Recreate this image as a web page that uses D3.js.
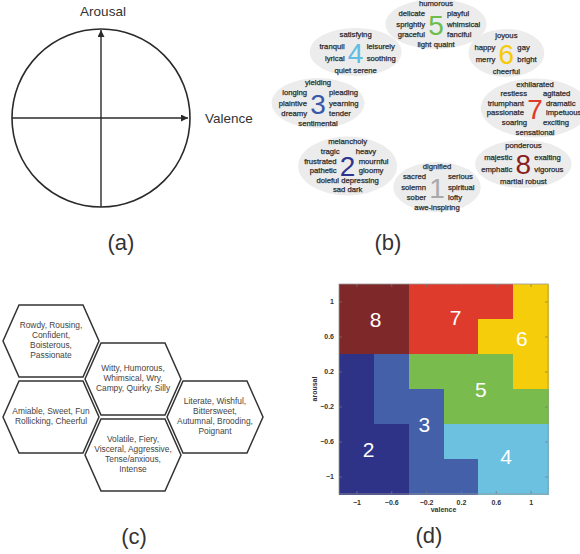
<!DOCTYPE html>
<html>
<head>
<meta charset="utf-8">
<script src="https://cdn.jsdelivr.net/npm/d3@7"></script>
<style>
  body { margin: 0; background: #fff; }
  svg { display: block; }
  text { font-family: "Liberation Sans", Arial, sans-serif; }
</style>
</head>
<body>
<svg id="fig" width="580" height="554"></svg>
<script>
// ---------- (a) valence–arousal plane ----------
const axisNames = ["Valence", "Arousal"];

// ---------- (b) Hevner adjective clusters ----------
const clusterIds = [1, 2, 3, 4, 5, 6, 7, 8];
const clusterWords = [
  [["dignified"], ["sacred", "serious"], ["solemn", "spiritual"], ["sober", "lofty"], ["awe-inspiring"]],
  [["melancholy"], ["tragic", "heavy"], ["frustrated", "mournful"], ["pathetic", "gloomy"], ["doleful depressing"], ["sad dark"]],
  [["yielding"], ["longing", "pleading"], ["plaintive", "yearning"], ["dreamy", "tender"], ["sentimental"]],
  [["satisfying"], ["tranquil", "leisurely"], ["lyrical", "soothing"], ["quiet serene"]],
  [["humorous"], ["delicate", "playful"], ["sprightly", "whimsical"], ["graceful", "fanciful"], ["light quaint"]],
  [["joyous"], ["happy", "gay"], ["merry", "bright"], ["cheerful"]],
  [["exhilarated"], ["restless", "agitated"], ["triumphant", "dramatic"], ["passionate", "impetuous"], ["soaring", "exciting"], ["sensational"]],
  [["ponderous"], ["majestic", "exalting"], ["emphatic", "vigorous"], ["martial robust"]]
];
const clusterColors = ["#a9a9a9", "#2e3590", "#3a58a8", "#62bce2", "#6dbd4c", "#f6c90b", "#df3a2a", "#8a1f1f"];

// ---------- (c) mood clusters ----------
const hexMoods = [
  ["Rowdy, Rousing,", "Confident,", "Boisterous,", "Passionate"],
  ["Witty, Humorous,", "Whimsical, Wry,", "Campy, Quirky, Silly"],
  ["Amiable, Sweet, Fun", "Rollicking, Cheerful"],
  ["Literate, Wishful,", "Bittersweet,", "Autumnal, Brooding,", "Poignant"],
  ["Volatile, Fiery,", "Visceral, Aggressive,", "Tense/anxious,", "Intense"]
];
// honeycomb cell (column, half-row) for each mood hexagon
const hexCells = [[0, 0], [1, 1], [0, 2], [2, 2], [1, 3]];

// ---------- (d) cluster map over valence/arousal ----------
const valenceTicks = [-1, -0.6, -0.2, 0.2, 0.6, 1];
const arousalTicks = [-1, -0.6, -0.2, 0.2, 0.6, 1];
const binEdges = [-1.2, -0.8, -0.4, 0, 0.4, 0.8, 1.2];
// rows from high arousal (top) to low arousal (bottom), columns by valence
const regionGrid = [
  [8, 8, 7, 7, 7, 6],
  [8, 8, 7, 7, 6, 6],
  [2, 3, 5, 5, 5, 6],
  [2, 3, 3, 5, 5, 5],
  [2, 2, 3, 4, 4, 4],
  [2, 2, 3, 3, 4, 4]
];
const regionIds = [2, 3, 4, 5, 6, 7, 8];
const regionColors = ["#2e3388", "#4460a8", "#6cc0e0", "#79bb4c", "#f6cd0a", "#de3b2c", "#7e2829"];
// label anchor (valence, arousal) for each region
const regionLabelAt = [[-0.86, -0.69], [-0.22, -0.41], [0.72, -0.77], [0.43, -0.01], [0.9, 0.58], [0.14, 0.82], [-0.78, 0.79]];

const panelTags = ["(a)", "(b)", "(c)", "(d)"];

const svg = d3.select("#fig");
const ink = "#2a2a2a";

// ================= (a) =================
{
  const g = svg.append("g");
  const sx = d3.scaleLinear().domain([-1, 1]).range([12, 190]);
  const sy = d3.scaleLinear().domain([-1, 1]).range([207, 29]);
  const defs = svg.append("defs");
  defs.append("marker")
    .attr("id", "arrow").attr("viewBox", "0 0 10 10")
    .attr("refX", 10).attr("refY", 5)
    .attr("markerWidth", 9).attr("markerHeight", 7)
    .attr("markerUnits", "userSpaceOnUse")
    .attr("orient", "auto")
    .append("path").attr("d", "M0,0 L10,5 L0,10 Z").attr("fill", ink);

  g.append("ellipse")
    .attr("cx", sx(0)).attr("cy", sy(0))
    .attr("rx", sx(1) - sx(0)).attr("ry", sy(-1) - sy(0))
    .attr("fill", "none").attr("stroke", ink).attr("stroke-width", 1.6);
  g.append("line")
    .attr("x1", sx(-1)).attr("y1", sy(0)).attr("x2", sx(1) - 2).attr("y2", sy(0))
    .attr("stroke", ink).attr("stroke-width", 1.4).attr("marker-end", "url(#arrow)");
  g.append("line")
    .attr("x1", sx(0)).attr("y1", sy(-1)).attr("x2", sx(0)).attr("y2", sy(1) + 1)
    .attr("stroke", ink).attr("stroke-width", 1.4).attr("marker-end", "url(#arrow)");
  g.append("text").attr("x", 229).attr("y", sy(0) + 5)
    .attr("text-anchor", "middle").attr("font-size", 13.5).attr("fill", "#333")
    .text(axisNames[0]);
  g.append("text").attr("x", sx(0) + 2).attr("y", 16)
    .attr("text-anchor", "middle").attr("font-size", 13.5).attr("fill", "#333")
    .text(axisNames[1]);
}

// ================= (b) =================
{
  const g = svg.append("g");
  // clusters sit on an elliptical ring, 45° apart, starting at the bottom
  const ringX = 432, ringY = 105, ringRx = 108, ringRy = 82;
  // small per-cluster offsets from the ideal ring position
  const ringNudge = [[5, 0], [-8, 3], [-6, -2], [0, 5], [4, 1], [-2, 6], [-5, 3], [15, 1]];
  const wordSize = 7.7;
  clusterIds.forEach((id, i) => {
    const ang = (90 + i * 45) * Math.PI / 180;
    const cx = ringX + ringRx * Math.cos(ang) + ringNudge[i][0];
    const cy = ringY + ringRy * Math.sin(ang) + ringNudge[i][1];
    const rows = clusterWords[i];
    const n = rows.length;
    const step = n === 4 ? 12 : (n * 7 + 6) / (n - 1);
    const cg = g.append("g").attr("transform", `translate(${cx},${cy})`);
    const el = cg.append("ellipse").attr("fill", "#ececec");
    const texts = [];
    rows.forEach((row, r) => {
      const dy = (r - (n - 1) / 2) * step;
      if (row.length === 2) {
        const gap = Math.abs(dy) < 12 ? 11 : 8;
        texts.push(cg.append("text").attr("x", -gap).attr("y", dy).attr("text-anchor", "end").text(row[0]));
        texts.push(cg.append("text").attr("x", gap).attr("y", dy).attr("text-anchor", "start").text(row[1]));
      } else {
        texts.push(cg.append("text").attr("x", 0).attr("y", dy).attr("text-anchor", "middle").text(row[0]));
      }
    });
    texts.forEach(t => t.attr("font-size", wordSize)
      .attr("fill", "#222").attr("stroke", "#333").attr("stroke-width", 0.25)
      .attr("dominant-baseline", "central"));
    let maxW = 0;
    texts.forEach(t => {
      const b = t.node().getBBox();
      maxW = Math.max(maxW, Math.abs(b.x), Math.abs(b.x + b.width));
    });
    el.attr("rx", maxW + 6).attr("ry", Math.max(24, n * 4.4 + 3));
    cg.append("text").attr("x", 0).attr("y", 1)
      .attr("text-anchor", "middle").attr("dominant-baseline", "central")
      .attr("font-size", 28).attr("fill", clusterColors[i]).text(id);
  });
}

// ================= (c) =================
{
  const g = svg.append("g");
  const hx = d3.scaleLinear().domain([0, 1]).range([51, 133]);
  const hy = d3.scaleLinear().domain([0, 1]).range([341, 379]);
  const hw = 48, ht = 32, hh = 36;
  const hexPath = d3.line();
  hexMoods.forEach((lines, i) => {
    const [c, r] = hexCells[i];
    const cx = hx(c), cy = hy(r);
    const pts = [[cx - hw, cy], [cx - ht, cy - hh], [cx + ht, cy - hh], [cx + hw, cy], [cx + ht, cy + hh], [cx - ht, cy + hh]];
    g.append("path").attr("d", hexPath(pts) + "Z")
      .attr("fill", "#fff").attr("stroke", "#333").attr("stroke-width", 1.5)
      .attr("stroke-linejoin", "miter");
    lines.forEach((s, k) => {
      g.append("text")
        .attr("x", cx).attr("y", cy - 1 + (k - (lines.length - 1) / 2) * 10)
        .attr("text-anchor", "middle").attr("dominant-baseline", "central")
        .attr("font-size", 8.4).attr("fill", "#444").text(s);
    });
  });
}

// ================= (d) =================
{
  const g = svg.append("g");
  const x = d3.scaleLinear().domain([-1.2, 1.2]).range([339, 548]);
  const y = d3.scaleLinear().domain([-1.2, 1.2]).range([494, 284]);
  const color = d3.scaleOrdinal().domain(regionIds).range(regionColors);
  const cells = [];
  regionGrid.forEach((row, r) => row.forEach((id, c) => {
    cells.push({ v0: binEdges[c], v1: binEdges[c + 1], a1: binEdges[binEdges.length - 1 - r], a0: binEdges[binEdges.length - 2 - r], id });
  }));
  g.selectAll("rect.cell").data(cells).join("rect").attr("class", "cell")
    .attr("x", d => x(d.v0)).attr("y", d => y(d.a1))
    .attr("width", d => x(d.v1) - x(d.v0) + 0.5).attr("height", d => y(d.a0) - y(d.a1) + 0.5)
    .attr("fill", d => color(d.id)).attr("shape-rendering", "crispEdges");

  g.selectAll("text.reg").data(regionIds).join("text").attr("class", "reg")
    .attr("x", (d, i) => x(regionLabelAt[i][0])).attr("y", (d, i) => y(regionLabelAt[i][1]))
    .attr("text-anchor", "middle").attr("dominant-baseline", "central")
    .attr("font-size", 21).attr("fill", "#fff").text(d => d);

  const fmt = d3.format("");
  const styleAxis = sel => {
    sel.select(".domain").remove();
    sel.selectAll(".tick line").attr("stroke", "#777").attr("stroke-width", 0.7);
    sel.selectAll(".tick text").attr("font-size", 7).attr("font-weight", "bold")
      .attr("fill", "#333").attr("font-family", "'Liberation Sans', Arial, sans-serif");
  };
  g.append("g").attr("transform", `translate(0,${y(-1.2)})`)
    .call(d3.axisBottom(x).tickValues(valenceTicks).tickSize(-3).tickPadding(6).tickFormat(fmt)).call(styleAxis);
  g.append("g").attr("transform", `translate(${x(-1.2)},0)`)
    .call(d3.axisLeft(y).tickValues(arousalTicks).tickSize(-3).tickPadding(5).tickFormat(fmt)).call(styleAxis);
  g.append("g").attr("transform", `translate(0,${y(1.2)})`)
    .call(d3.axisTop(x).tickValues(valenceTicks).tickSize(-3).tickFormat("")).call(styleAxis);
  g.append("g").attr("transform", `translate(${x(1.2)},0)`)
    .call(d3.axisRight(y).tickValues(arousalTicks).tickSize(-3).tickFormat("")).call(styleAxis);
  g.append("rect").attr("x", x(-1.2)).attr("y", y(1.2))
    .attr("width", x(1.2) - x(-1.2)).attr("height", y(-1.2) - y(1.2))
    .attr("fill", "none").attr("stroke", "#999").attr("stroke-width", 0.8);

  g.append("text").attr("x", x(0)).attr("y", 512)
    .attr("text-anchor", "middle").attr("font-size", 7).attr("font-weight", "bold").attr("fill", "#333").text("valence");
  g.append("text").attr("transform", `translate(317,${y(0)}) rotate(-90)`)
    .attr("text-anchor", "middle").attr("font-size", 7).attr("font-weight", "bold").attr("fill", "#333").text("arousal");
}

// ---------- panel tags ----------
const tagPos = [[121, 250], [388, 250], [134, 544], [429, 543]];
panelTags.forEach((t, i) => {
  svg.append("text").attr("x", tagPos[i][0]).attr("y", tagPos[i][1])
    .attr("text-anchor", "middle").attr("font-size", 22).attr("fill", "#333").text(t);
});
</script>
</body>
</html>
